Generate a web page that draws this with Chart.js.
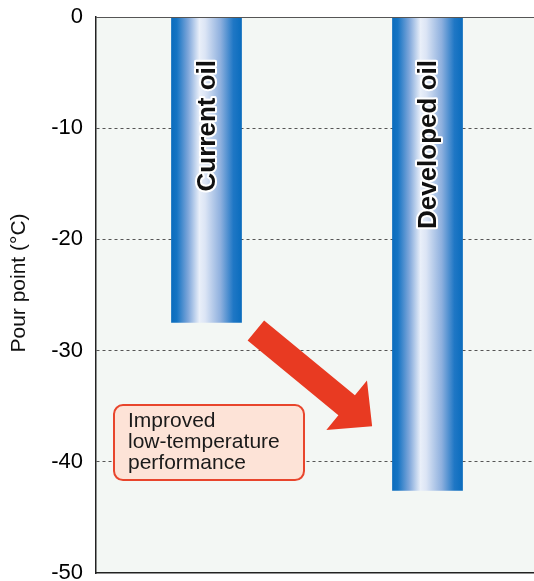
<!DOCTYPE html>
<html>
<head>
<meta charset="utf-8">
<script src="https://cdn.jsdelivr.net/npm/chart.js@4.4.1/dist/chart.umd.min.js"></script>
<style>
  html, body { margin: 0; padding: 0; background: #ffffff; overflow: hidden; }
  #wrap { position: relative; width: 538px; height: 581px; }
</style>
</head>
<body>
<div id="wrap"><canvas id="chart" width="538" height="581"></canvas></div>
<script>
// Pour point of two oils (°C)
const categories = ['Current oil', 'Developed oil'];
const pourPoint = [-27.5, -42.6];
const yTickValues = [0, -10, -20, -30, -40, -50];
const axisTitle = 'Pour point (°C)';
const noteLines = ['Improved', 'low-temperature', 'performance'];

const FONT = '"Liberation Sans", Arial, Helvetica, sans-serif';
const BAR_PCT = 0.32;

// Cylinder-like horizontal shading for each bar
function barGradient(context) {
  const chart = context.chart;
  const xs = chart.scales.x;
  if (!xs || !chart.chartArea) return '#0a6cbd';
  const cx = xs.getPixelForValue(context.dataIndex);
  const w = xs.width / categories.length * BAR_PCT;
  const g = chart.ctx.createLinearGradient(cx - w / 2, 0, cx + w / 2, 0);
  g.addColorStop(0.00, '#0a6cbd');
  g.addColorStop(0.08, '#1574c3');
  g.addColorStop(0.24, '#7ea6da');
  g.addColorStop(0.40, '#e9eff9');
  g.addColorStop(0.48, '#dce5f5');
  g.addColorStop(0.70, '#8eb0de');
  g.addColorStop(0.88, '#1f77c5');
  g.addColorStop(1.00, '#0a6cbd');
  return g;
}

// Plot background, top frame line and the y-axis title
const frame = {
  id: 'frame',
  beforeDraw(chart) {
    const { ctx, chartArea: a } = chart;
    ctx.save();
    ctx.fillStyle = '#f3f7f4';
    ctx.fillRect(a.left, a.top, a.right - a.left, a.bottom - a.top);
    ctx.restore();
  },
  afterDraw(chart) {
    const { ctx, chartArea: a } = chart;
    ctx.save();
    ctx.strokeStyle = '#555555';
    ctx.lineWidth = 1.2;
    ctx.beginPath();
    ctx.moveTo(a.left, a.top + 0.5);
    ctx.lineTo(a.right, a.top + 0.5);
    ctx.stroke();

    // axis title, rotated, a little above the axis middle
    ctx.translate(19, (a.top + a.bottom) / 2 - 12);
    ctx.rotate(-Math.PI / 2);
    ctx.font = '21px ' + FONT;
    ctx.fillStyle = '#111111';
    ctx.textAlign = 'center';
    ctx.textBaseline = 'middle';
    ctx.fillText(axisTitle, 0, 0);
    ctx.restore();
  }
};

// Vertical category names inside the bars
const barNames = {
  id: 'barNames',
  afterDatasetsDraw(chart) {
    const { ctx } = chart;
    const ys = chart.scales.y;
    const meta = chart.getDatasetMeta(0);
    ctx.save();
    ctx.font = 'bold 26px ' + FONT;
    ctx.textAlign = 'right';
    ctx.textBaseline = 'middle';
    ctx.lineJoin = 'round';
    meta.data.forEach((bar, i) => {
      ctx.save();
      ctx.translate(bar.x + 1, ys.getPixelForValue(0) + 43);
      ctx.rotate(-Math.PI / 2);
      ctx.strokeStyle = '#ffffff';
      ctx.lineWidth = 4;
      ctx.strokeText(categories[i], 0, 0);
      ctx.fillStyle = '#111111';
      ctx.fillText(categories[i], 0, 0);
      ctx.restore();
    });
    ctx.restore();
  }
};

// Improvement arrow and note box
const note = {
  id: 'note',
  afterDatasetsDraw(chart) {
    const { ctx } = chart;
    const ys = chart.scales.y;
    const meta = chart.getDatasetMeta(0);
    const b0 = meta.data[0], b1 = meta.data[1];

    // arrow: from just below the first bar toward the second bar
    const sx = b0.x + b0.width / 2 + 14, sy = ys.getPixelForValue(-28.2);
    const tx = b1.x - b1.width / 2 - 20, ty = ys.getPixelForValue(-36.8);
    const ang = Math.atan2(ty - sy, tx - sx);
    const len = Math.hypot(tx - sx, ty - sy);
    const shaftHalf = 13, headHalf = 32, headLen = 33;
    ctx.save();
    ctx.translate(sx, sy);
    ctx.rotate(ang);
    ctx.fillStyle = '#e83a22';
    ctx.beginPath();
    ctx.moveTo(0, -shaftHalf);
    ctx.lineTo(len - headLen, -shaftHalf);
    ctx.lineTo(len - headLen, -headHalf);
    ctx.lineTo(len, 0);
    ctx.lineTo(len - headLen, headHalf);
    ctx.lineTo(len - headLen, shaftHalf);
    ctx.lineTo(0, shaftHalf);
    ctx.closePath();
    ctx.fill();
    ctx.restore();

    // note box
    const bx = chart.chartArea.left + 18, by = ys.getPixelForValue(-34.9);
    const bw = 190, bh = 75, r = 9;
    ctx.save();
    ctx.beginPath();
    ctx.roundRect(bx, by, bw, bh, r);
    ctx.fillStyle = '#fde3d7';
    ctx.fill();
    ctx.lineWidth = 2;
    ctx.strokeStyle = '#e8452c';
    ctx.stroke();
    ctx.fillStyle = '#1a1a1a';
    ctx.font = '21px ' + FONT;
    ctx.textAlign = 'left';
    ctx.textBaseline = 'middle';
    noteLines.forEach((t, i) => {
      ctx.fillText(t, bx + 14, by + 16 + i * 21.3);
    });
    ctx.restore();
  }
};

new Chart(document.getElementById('chart'), {
  type: 'bar',
  data: {
    labels: categories,
    datasets: [{
      data: pourPoint,
      backgroundColor: barGradient,
      borderWidth: 0,
      barPercentage: BAR_PCT,
      categoryPercentage: 1.0
    }]
  },
  options: {
    responsive: false,
    animation: false,
    devicePixelRatio: 1,
    layout: { padding: { top: 17, right: 0, bottom: 0, left: 0 } },
    plugins: {
      legend: { display: false },
      tooltip: { enabled: false }
    },
    scales: {
      x: {
        type: 'category',
        offset: true,
        grid: { display: false, drawTicks: false },
        ticks: { display: false },
        border: { display: true, color: '#222222', width: 1.5 },
        afterFit(s) { s.height = 8; }
      },
      y: {
        min: -50,
        max: 0,
        afterBuildTicks(s) { s.ticks = yTickValues.map(v => ({ value: v })); },
        afterFit(s) { s.width = 96; s.paddingTop = 0; s.paddingBottom = 0; },
        ticks: {
          color: '#000000',
          font: { family: FONT, size: 22 },
          padding: 13,
          callback: v => String(v)
        },
        grid: {
          drawTicks: false,
          color: c => (c.tick && (c.tick.value === 0 || c.tick.value === -50)) ? 'rgba(0,0,0,0)' : '#555555',
          lineWidth: 1
        },
        border: { display: true, color: '#222222', width: 1.5, dash: [3, 3] },
        title: { display: false }
      }
    }
  },
  plugins: [frame, barNames, note]
});
</script>
</body>
</html>
